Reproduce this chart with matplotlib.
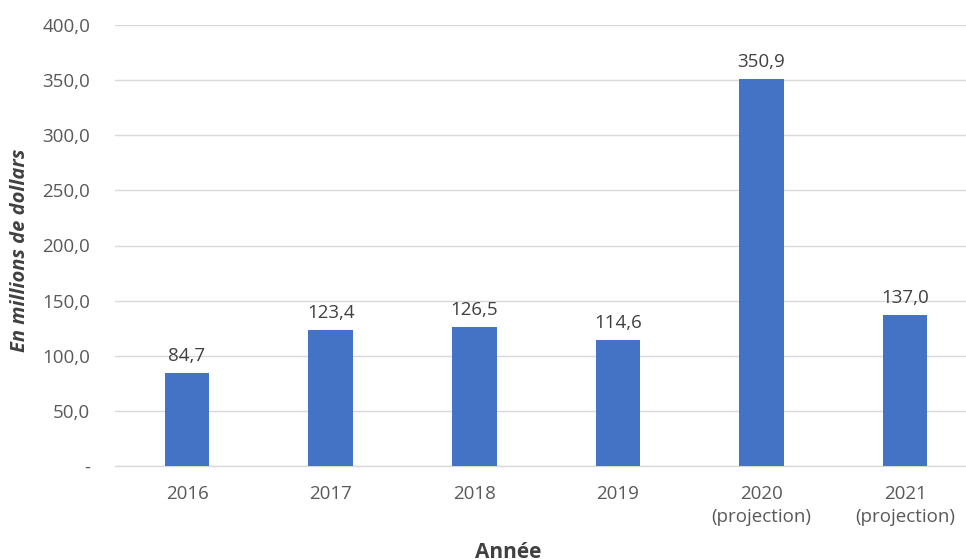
import matplotlib.pyplot as plt
from matplotlib.ticker import FuncFormatter, MultipleLocator

plt.rcParams['font.family'] = ['Open Sans', 'DejaVu Sans']

# ── Données ──────────────────────────────────────────────────────────────────
annees = ['2016', '2017', '2018', '2019', '2020\n(projection)', '2021\n(projection)']
valeurs = [84.7, 123.4, 126.5, 114.6, 350.9, 137.0]

W, H = 966, 559
fig = plt.figure(figsize=(W / 100, H / 100), dpi=100)
# axes plus large que la figure à droite (graphique rogné dans l'original)
left, right = 115.2 / W, 977.0 / W
bottom, top = (H - 466) / H, (H - 25) / H
ax = fig.add_axes([left, bottom, right - left, top - bottom])

x = range(len(annees))
bars = ax.bar(x, valeurs, width=0.31, color='#4472C4', zorder=3)

for b, v in zip(bars, valeurs):
    ax.text(b.get_x() + b.get_width() / 2, v + 7, f'{v:.1f}'.replace('.', ','),
            ha='center', va='bottom', fontsize=13.5, color='#404040')

ax.set_xlim(-0.5, len(annees) - 0.5)
ax.set_ylim(0, 400)
ax.yaxis.set_major_locator(MultipleLocator(50))
ax.yaxis.set_major_formatter(FuncFormatter(
    lambda v, p: '-' if v == 0 else f'{v:.1f}'.replace('.', ',')))
ax.set_xticks(list(x))
ax.set_xticklabels(annees, linespacing=1.35)

ax.grid(axis='y', color='#D9D9D9', lw=1.0, zorder=0)
for s in ['top', 'right', 'left']:
    ax.spines[s].set_visible(False)
ax.spines['bottom'].set_color('#D9D9D9')
ax.spines['bottom'].set_linewidth(1.0)
ax.tick_params(axis='both', length=0, labelsize=13.5, labelcolor='#595959')
ax.tick_params(axis='y', pad=18)
ax.tick_params(axis='x', pad=14)

fig.text(20 / W, (H - 250) / H, 'En millions de dollars', rotation=90,
         ha='center', va='center', fontsize=14.5, fontweight='bold',
         fontstyle='italic', color='#404040')
fig.text(508 / W, (H - 553) / H, 'Année', ha='center', va='center',
         fontsize=15, fontweight='bold', color='#404040')

fig.savefig('out.png', dpi=100)
